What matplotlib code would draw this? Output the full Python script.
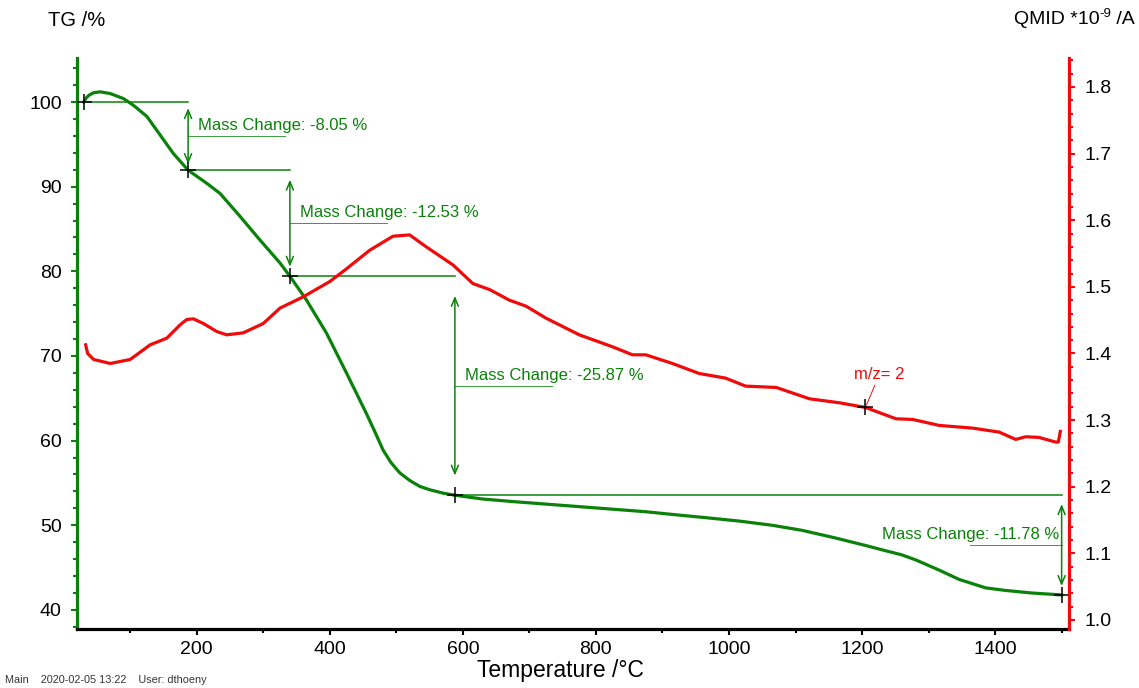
import matplotlib
matplotlib.use('Agg')
import matplotlib.pyplot as plt
from matplotlib.ticker import MultipleLocator, FormatStrFormatter

plt.rcParams['font.family'] = ['Liberation Sans', 'DejaVu Sans']

# TG curve (mass %)
tg_temp = [30, 34, 38, 45, 55, 70, 90, 105, 125, 145, 165, 187, 215, 235, 265, 295,
           325, 340, 365, 395, 425, 455, 468, 480, 492, 505, 520, 535, 550, 570,
           588, 630, 675, 725, 775, 825, 875, 925, 965, 1015, 1065, 1110, 1160,
           1206, 1230, 1260, 1281, 1316, 1346, 1386, 1416, 1455, 1500]
tg_mass = [100.0, 100.5, 100.8, 101.1, 101.2, 101.0, 100.4, 99.6, 98.3, 96.1, 93.9,
           91.95, 90.4, 89.2, 86.5, 83.7, 81.0, 79.42, 76.6, 72.7, 68.0, 63.2,
           61.0, 58.9, 57.4, 56.2, 55.3, 54.6, 54.2, 53.8, 53.55, 53.1, 52.8,
           52.5, 52.2, 51.9, 51.6, 51.2, 50.9, 50.5, 50.0, 49.4, 48.5, 47.6,
           47.1, 46.5, 45.9, 44.7, 43.6, 42.6, 42.3, 42.0, 41.77]

# QMID ion current m/z = 2 (*1e-9 A)
ms_temp = [33, 36, 45, 70, 100, 130, 155, 175, 185, 195, 210, 230, 245, 270, 300,
           325, 360, 400, 425, 460, 495, 520, 545, 585, 615, 640, 670, 695, 725,
           775, 825, 855, 875, 915, 955, 995, 1025, 1071, 1121, 1166, 1205, 1251,
           1276, 1316, 1366, 1406, 1431, 1446, 1466, 1491, 1495, 1498]
ms_ion = [1.413, 1.400, 1.391, 1.385, 1.391, 1.413, 1.423, 1.443, 1.451, 1.452,
          1.445, 1.433, 1.428, 1.431, 1.445, 1.468, 1.485, 1.508, 1.527, 1.555,
          1.576, 1.578, 1.560, 1.533, 1.505, 1.496, 1.480, 1.471, 1.453, 1.428,
          1.410, 1.398, 1.398, 1.385, 1.370, 1.363, 1.351, 1.349, 1.332, 1.326,
          1.319, 1.302, 1.301, 1.292, 1.288, 1.282, 1.271, 1.275, 1.274, 1.267,
          1.267, 1.283]

# evaluation steps
step_temp = [30, 187, 340, 588, 1500]
step_mass = [100.0, 91.95, 79.42, 53.55, 41.77]
mass_change = [-8.05, -12.53, -25.87, -11.78]

peak_temp = 1205
peak_ion = 1.319

green = '#0a820a'
red = '#f00a0a'

fig = plt.figure(figsize=(11.39, 6.88), dpi=100)
ax = fig.add_axes([0.0676, 0.0858, 0.8709, 0.8299])
ax2 = ax.twinx()

ax.plot(tg_temp, tg_mass, color=green, lw=2.3, zorder=3)
ax2.plot(ms_temp, ms_ion, color=red, lw=2.3)

ax.set_xlim(20, 1511)
ax.set_ylim(37.75, 105.2)
ax2.set_ylim(0.9865, 1.8435)

# step annotations
for i, dm in enumerate(mass_change):
    x0, y0 = step_temp[i], step_mass[i]
    x1, y1 = step_temp[i + 1], step_mass[i + 1]
    ax.plot([x0, x1], [y0, y0], color=green, lw=1.1)
    inset = 0.09 * (y0 - y1)
    ax.annotate('', xy=(x1, y1 + inset), xytext=(x1, y0 - inset),
                arrowprops=dict(arrowstyle='<->,head_length=0.6,head_width=0.25',
                                color=green, lw=1.1, shrinkA=0, shrinkB=0,
                                mutation_scale=10))
    ymid = (y0 + y1) / 2
    label = f'Mass Change: {dm:.2f} %'
    if i < 3:
        ax.plot([x1, x1 + 146], [ymid, ymid], color=green, lw=0.7, alpha=0.8)
        ax.annotate(label, xy=(x1, ymid), xytext=(7, 2), textcoords='offset points',
                    color=green, fontsize=12, ha='left', va='bottom')
    else:
        ax.plot([x1 - 137, x1], [ymid, ymid], color=green, lw=0.7, alpha=0.8)
        ax.annotate(label, xy=(x1, ymid), xytext=(-2, 2), textcoords='offset points',
                    color=green, fontsize=12, ha='right', va='bottom')

ax.plot(step_temp, step_mass, ls='none', marker='+', ms=11, mew=1.1, color='black', zorder=5)

ax2.plot([peak_temp], [peak_ion], ls='none', marker='+', ms=11, mew=1.1, color='black', zorder=5)
ax2.annotate('m/z= 2', xy=(peak_temp, peak_ion), xytext=(10, 18), textcoords='offset points',
             color=red, fontsize=12, ha='center', va='bottom',
             arrowprops=dict(arrowstyle='-', color=red, lw=0.7, shrinkA=0, shrinkB=2))

# axes styling
ax.spines['top'].set_visible(False)
ax.spines['right'].set_visible(False)
ax.spines['left'].set_color(green)
ax.spines['left'].set_linewidth(2.3)
ax.spines['bottom'].set_linewidth(2.3)
ax2.spines['top'].set_visible(False)
ax2.spines['left'].set_visible(False)
ax2.spines['bottom'].set_visible(False)
ax2.spines['right'].set_color(red)
ax2.spines['right'].set_linewidth(2.3)

ax.xaxis.set_major_locator(MultipleLocator(200))
ax.xaxis.set_minor_locator(MultipleLocator(100))
ax.yaxis.set_major_locator(MultipleLocator(10))
ax.yaxis.set_minor_locator(MultipleLocator(2))
ax2.yaxis.set_major_locator(MultipleLocator(0.1))
ax2.yaxis.set_minor_locator(MultipleLocator(0.02))
ax2.yaxis.set_major_formatter(FormatStrFormatter('%.1f'))

ax.tick_params(axis='x', which='major', length=4, width=1.5, labelsize=14, pad=5)
ax.tick_params(axis='x', which='minor', length=3, width=1.5)
ax.tick_params(axis='y', which='major', length=4, width=1.5, color=green, labelsize=14, pad=7)
ax.tick_params(axis='y', which='minor', length=3, width=1.5, color=green)
ax2.tick_params(axis='y', which='major', length=4, width=1.5, color=red, labelsize=14, pad=7)
ax2.tick_params(axis='y', which='minor', length=3, width=1.5, color=red)

ax.set_xticks([t for t in ax.get_xticks() if 100 < t < 1500])

fig.text(48 / 1139, 1 - 20 / 688, 'TG /%', fontsize=14.5, va='center', ha='left')

# right axis title with a plain hyphen in the exponent
renderer = fig.canvas.get_renderer()
t_unit = fig.text(1135 / 1139, 1 - 20 / 688, ' /A', fontsize=14, va='center', ha='right')
x_right = t_unit.get_window_extent(renderer).x0
t_exp = fig.text(x_right / 1139, 1 - 14 / 688, '-9', fontsize=9.5, va='center', ha='right')
x_right = t_exp.get_window_extent(renderer).x0
fig.text(x_right / 1139, 1 - 20 / 688, 'QMID *10', fontsize=14, va='center', ha='right')

fig.text(560 / 1139, 1 - 670 / 688, 'Temperature /°C', fontsize=16.5, va='center', ha='center')
fig.text(5 / 1139, 1 - 685 / 688, 'Main    2020-02-05 13:22    User: dthoeny', fontsize=7.8,
         va='bottom', ha='left', color='#333333')

fig.savefig('out.png', dpi=100)
